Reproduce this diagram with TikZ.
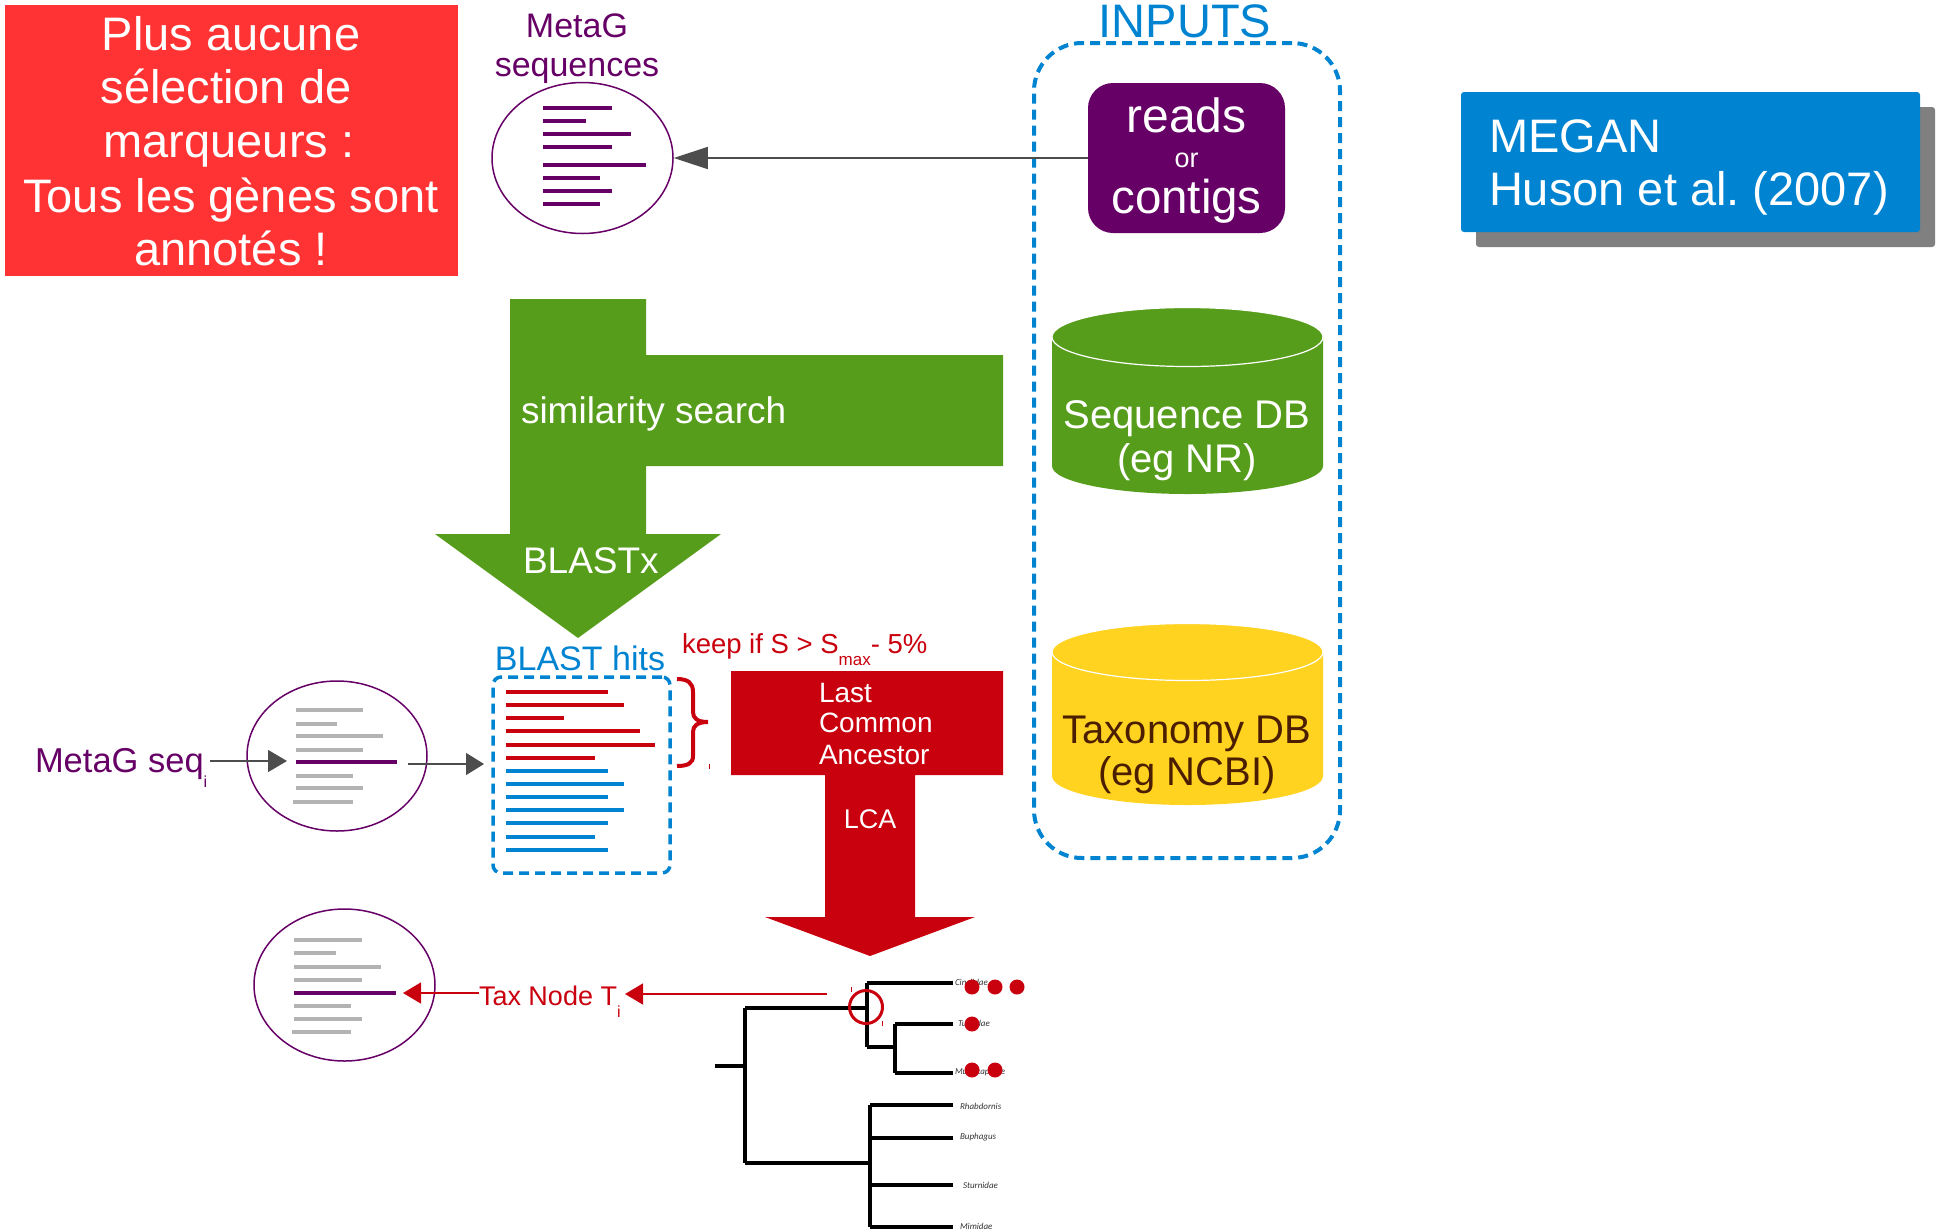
\documentclass[tikz,border=0pt]{standalone}
\usepackage{fontspec}
\setmainfont{Liberation Sans}
\newfontfamily\treefont{Carlito}
\usetikzlibrary{arrows.meta,shapes.geometric}
\definecolor{redbox}{HTML}{FF3333}
\definecolor{mpurple}{HTML}{660066}
\definecolor{mblue}{HTML}{0084D1}
\definecolor{mgreen}{HTML}{579D1C}
\definecolor{myellow}{HTML}{FFD320}
\definecolor{mred}{HTML}{C9000D}
\definecolor{mbrown}{HTML}{4B1E00}
\definecolor{mgray}{HTML}{B3B3B3}
\definecolor{arrgray}{HTML}{4D4D4D}
\definecolor{shadowgray}{HTML}{808080}
\newcommand{\myfs}[1]{\fontsize{#1}{#1}\selectfont}
\frenchspacing
\begin{document}
\begin{tikzpicture}[x=1pt,y=-1pt,
  txt/.style={inner sep=0pt,outer sep=0pt},
  seqell/.style={ellipse,draw=mpurple,line width=1.5pt,minimum width=181pt,minimum height=151pt,inner sep=0pt},
  dashbox/.style={draw=mblue,line width=4pt,dash pattern=on 10pt off 6pt},
  grayarrow/.style={draw=arrgray,line width=1.5pt,-{Triangle[length=#1,width=22pt]},arrgray},
  redarrow/.style={draw=red!85!black,line width=1.4pt,-{Triangle[length=18pt,width=21pt,fill=mred]},color=mred},
  seqline/.style={line width=4pt,mpurple},
  grline/.style={line width=3.5pt,mgray},
  treeline/.style={line width=3.5pt,black},
  treelab/.style={txt,anchor=west,font=\treefont\itshape\myfs{9},text=black!80},
  dot/.style={mred}
]
\useasboundingbox (0,0) rectangle (1937,1229);

% ---------- Red box ----------
\node[fill=redbox,minimum width=453pt,minimum height=271pt,inner sep=0pt] (plus) at (231.5,140.5) {};
\begin{scope}[every node/.style={txt,anchor=base,text=white,font=\myfs{47}}]
\node (p1) at (231,50) {Plus aucune};
\node (p2) at (226,103) {sélection de};
\node (p3) at (229,157) {marqueurs :};
\node (p4) at (231,212) {Tous les gènes sont};
\node (p5) at (231,265) {annotés !};
\end{scope}

% ---------- MetaG sequences ----------
\node[txt,anchor=base,text=mpurple,font=\myfs{34}] (mg1) at (577,37) {MetaG};
\node[txt,anchor=base,text=mpurple,font=\myfs{34}] (mg2) at (577,76) {sequences};
\node[seqell] (seqs) at (582.5,158) {};
\foreach \y/\e in {108/612,121/586,134/631,147/612,165/646,178/600,191/612,204/600}
  \draw[seqline] (543,\y) -- (\e,\y);

% ---------- INPUTS box ----------
\node[dashbox,rounded corners=48pt,minimum width=306pt,minimum height=815pt,inner sep=0pt] (inputs) at (1187,450.5) {};
\node[txt,anchor=base,text=mblue,font=\myfs{47}] (inlab) at (1185,37) {INPUTS};

% reads or contigs
\node[fill=mpurple,rounded corners=25pt,minimum width=197pt,minimum height=150pt,inner sep=0pt] (reads) at (1186.5,158) {};
\node[txt,anchor=base,text=white,font=\myfs{48}] (r1) at (1186.5,132) {reads};
\node[txt,anchor=base,text=white,font=\myfs{27}] (r2) at (1186.5,167) {or};
\node[txt,anchor=base,text=white,font=\myfs{47.5}] (r3) at (1186.5,213) {contigs};

\draw[grayarrow=34pt] (reads.west) -- (seqs.east);

% Sequence DB cylinder
\fill[mgreen] (1052,337) -- (1052,466) arc[start angle=180,end angle=0,x radius=135.5,y radius=28] -- (1323,337) arc[start angle=0,end angle=-180,x radius=135.5,y radius=29.5] -- cycle;
\draw[white,line width=1.2pt] (1187.5,337) ellipse[x radius=135.5,y radius=29.5];
\node[txt,anchor=base,text=white,font=\myfs{40}] (sdb1) at (1187,428) {Sequence DB};
\node[txt,anchor=base,text=white,font=\myfs{40}] (sdb2) at (1187,472) {(eg NR)};

% Taxonomy DB cylinder
\fill[myellow] (1052,652) -- (1052,776) arc[start angle=180,end angle=0,x radius=135.5,y radius=29] -- (1323,652) arc[start angle=0,end angle=-180,x radius=135.5,y radius=28.5] -- cycle;
\draw[white,line width=1.2pt] (1187.5,652) ellipse[x radius=135.5,y radius=28.5];
\node[txt,anchor=base,text=mbrown,font=\myfs{40}] (tdb1) at (1187,743) {Taxonomy DB};
\node[txt,anchor=base,text=mbrown,font=\myfs{40}] (tdb2) at (1187,785) {(eg NCBI)};

% ---------- MEGAN ----------
\fill[shadowgray,rounded corners=3pt] (1476,107) rectangle (1935,247);
\node[fill=mblue,rounded corners=3pt,minimum width=459pt,minimum height=140pt,inner sep=0pt] (megan) at (1690.5,162) {};
\node[txt,anchor=base west,text=white,font=\myfs{47}] (m1) at (1489,152) {MEGAN};
\node[txt,anchor=base west,text=white,font=\myfs{47}] (m2) at (1489,205) {Huson et al. (2007)};

% ---------- Green similarity search arrow ----------
\fill[mgreen] (510,299) -- (646,299) -- (646,355) -- (1003,355) -- (1003,466) -- (646,466) -- (646,534) -- (721,534) -- (578,638) -- (435,534) -- (510,534) -- cycle;
\node[txt,anchor=base west,text=white,font=\myfs{37}] (sim) at (521,423) {similarity search};
\node[txt,anchor=base west,text=white,font=\myfs{37}] (blastx) at (523,573) {BLASTx};

% ---------- BLAST hits ----------
\node[txt,anchor=base,text=mblue,font=\myfs{34}] (hitlab) at (580,670) {BLAST hits};
\node[dashbox,line width=3.5pt,rounded corners=8pt,minimum width=177pt,minimum height=196pt,inner sep=0pt] (hits) at (581.5,775) {};
\foreach \y/\e in {692/608,705/624,718/564,731/640,745/655,758/595}
  \draw[line width=4pt,mred] (506,\y) -- (\e,\y);
\foreach \y/\e in {771/608,784/624,797/608,810/624,823/608,837/595,850/608}
  \draw[line width=4pt,mblue] (506,\y) -- (\e,\y);

% brace
\draw[mred,line width=4pt] (677,679) .. controls (688,679) and (693,683) .. (693,692) -- (693,712) .. controls (693,718) and (697,722) .. (708,722) .. controls (697,722) and (693,726) .. (693,732) -- (693,756) .. controls (693,763) and (688,766) .. (677,766);
\draw[mred,line width=1pt] (709,764) -- (709,769);

\node[txt,anchor=base west,text=mred,font=\myfs{27.5}] (keep) at (682,653) {keep if S > S\raisebox{-12pt}{\myfs{17}max}- 5\%};

% ---------- LCA arrow ----------
\fill[mred] (731,671) -- (1003,671) -- (1003,775) -- (915,775) -- (915,917) -- (975,917) -- (870,956) -- (765,917) -- (825,917) -- (825,775) -- (731,775) -- cycle;
\node[txt,anchor=base west,text=white,font=\myfs{28}] (l1) at (819,702) {Last};
\node[txt,anchor=base west,text=white,font=\myfs{28}] (l2) at (819,732) {Common};
\node[txt,anchor=base west,text=white,font=\myfs{28}] (l3) at (819,764) {Ancestor};
\node[txt,anchor=base,text=white,font=\myfs{27}] (lca) at (870,828) {LCA};

% ---------- MetaG seq_i ----------
\node[txt,anchor=base west,text=mpurple,font=\myfs{34.5}] (mgi) at (35,772) {MetaG seq\raisebox{-15pt}{\myfs{16}i}};
\node[seqell,minimum width=180pt,minimum height=150pt] (seqi) at (337,756) {};
\foreach \y/\e in {710/363,724/337,736/383,750/363,776/353,788/363}
  \draw[grline] (296,\y) -- (\e,\y);
\draw[grline] (293,802) -- (353,802);
\draw[seqline] (296,762) -- (397,762);
\coordinate (a1s) at (210,761);
\coordinate (a1e) at (287,761);
\coordinate (a2s) at (408,764);
\coordinate (a2e) at (484,764);
\draw[grayarrow=19pt] (a1s) -- (a1e);
\draw[grayarrow=18pt] (a2s) -- (a2e);

% ---------- bottom ellipse ----------
\node[seqell,minimum width=181pt,minimum height=152pt] (seqo) at (344.5,985) {};
\foreach \y/\e in {940/362,953/336,967/381,980/362,1006/351,1019/362}
  \draw[grline] (294,\y) -- (\e,\y);
\draw[grline] (292,1032) -- (351,1032);
\draw[seqline] (294,993) -- (396,993);

\node[txt,anchor=base west,text=mred,font=\myfs{27}] (tax) at (479,1005) {Tax Node T\raisebox{-12pt}{\myfs{16}i}};
\coordinate (t1s) at (827,994);
\coordinate (t1e) at (625,994);
\coordinate (t2e) at (403,993);
\draw[redarrow] (t1s) -- (t1e);
\draw[redarrow] (tax.base west) ++(0,-12) coordinate (t2s) -- (t2e);

% ---------- tree ----------
\draw[treeline] (715,1066) -- (745,1066);
\draw[treeline] (745,1008) -- (745,1163);
\draw[treeline] (745,1008) -- (867,1008);
\draw[treeline] (867,983) -- (867,1047);
\draw[treeline] (867,983) -- (953,983);
\draw[treeline] (867,1047) -- (895,1047);
\draw[treeline] (895,1024) -- (895,1073);
\draw[treeline] (895,1024) -- (953,1024);
\draw[treeline] (895,1073) -- (953,1073);
\draw[treeline] (745,1163) -- (870,1163);
\draw[treeline] (870,1105) -- (870,1227);
\foreach \y in {1105,1138,1185,1227}
  \draw[treeline] (870,\y) -- (953,\y);
\node[treelab] (c1) at (955,982) {Cinclidae};
\node[treelab] (c2) at (958,1023) {Turdidae};
\node[treelab] (c3) at (955,1072) {Muscicapidae};
\node[treelab] (c4) at (960,1106) {Rhabdornis};
\node[treelab] (c5) at (960,1137) {Buphagus};
\node[treelab] (c6) at (963,1185) {Sturnidae};
\node[treelab] (c7) at (960,1226) {Mimidae};
\foreach \p in {(972,987),(995,987),(1017,987),(972,1024),(972,1070),(995,1070)}
  \fill[dot] \p circle[radius=7.5];
\draw[mred,line width=3pt] (866,1007) circle[radius=16.5];
\draw[mred,line width=1pt] (851,987) -- (851,992);
\draw[mred,line width=1pt] (882,1021) -- (882,1026);
\end{tikzpicture}
\end{document}
